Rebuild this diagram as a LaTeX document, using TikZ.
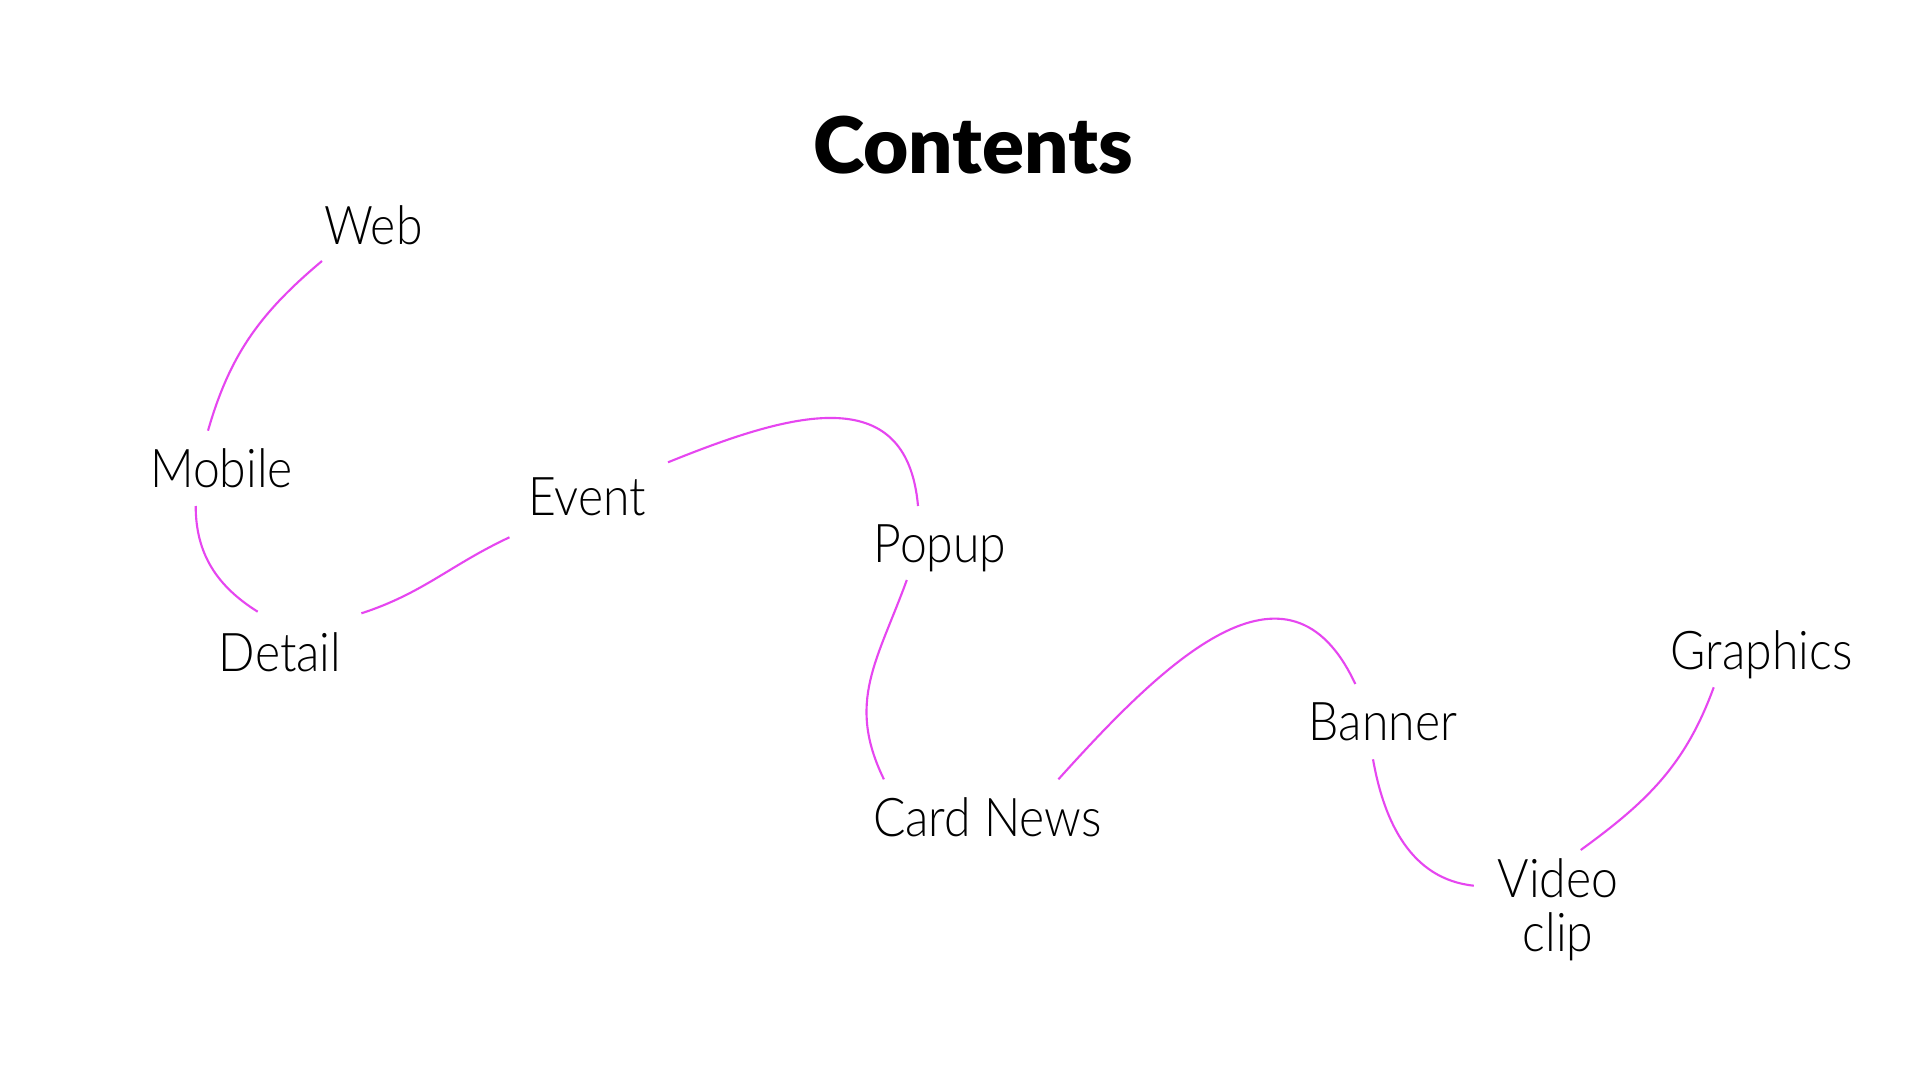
\documentclass[tikz,border=0pt]{standalone}
\usepackage{fontspec}
\setmainfont{Lato Light}[FakeStretch=0.9]
\newfontfamily\titlefont{Lato Black}
\definecolor{linkpink}{RGB}{230,70,240}

\begin{document}
\begin{tikzpicture}[
    item/.style={anchor=base, inner sep=0pt, align=center, font=\fontsize{15.2}{15.4}\selectfont},
    heading/.style={anchor=base, inner sep=0pt, font=\titlefont\fontsize{22.2}{24}\selectfont},
    link/.style={draw=linkpink, line width=0.6pt}
]
    \fill[white] (0,0) rectangle (19.2,-10.8);
    \useasboundingbox (0,0) rectangle (19.2,-10.8);

    % Title
    \node[heading] (title) at (9.73,-1.74) {Contents};

    % Items
    \node[item] (web) at (3.735,-2.45) {Web};
    \node[item] (mobile) at (2.214,-4.873) {Mobile};
    \node[item] (event) at (5.87,-5.15) {Event};
    \node[item] (detail) at (2.80,-6.717) {Detail};
    \node[item] (popup) at (9.40,-5.627) {Popup};
    \node[item] (cardnews) at (9.875,-8.367) {Card News};
    \node[item] (banner) at (13.83,-7.40) {Banner};
    \node[item] (graphics) at (17.616,-6.69) {Graphics};
    \node[item] (video) at (15.58,-9.517) {Video\\clip};

    % Links
    \draw[link] ([shift={(-0.515,-0.16)}]web.base) to[out=220, in=74] ([shift={(-0.134,0.566)}]mobile.base);
    \draw[link] ([shift={(-0.257,-0.187)}]mobile.base) to[out=270, in=148] ([shift={(-0.223,0.60)}]detail.base);
    \draw[link] ([shift={(0.814,0.584)}]detail.base) to[out=18, in=205] ([shift={(-0.775,-0.223)}]event.base);
    \draw[link] ([shift={(0.81,0.527)}]event.base) to[out=22, in=95, looseness=1.3] ([shift={(-0.22,0.567)}]popup.base);
    \draw[link] ([shift={(-0.332,-0.173)}]popup.base) to[out=250, in=116, looseness=1.1] ([shift={(-1.036,0.574)}]cardnews.base);
    \draw[link] ([shift={(0.709,0.574)}]cardnews.base) to[out=48, in=115, looseness=1.3] ([shift={(-0.277,0.56)}]banner.base);
    \draw[link] ([shift={(-0.10,-0.193)}]banner.base) to[out=-80, in=174] ([shift={(-0.842,0.66)}]video.base);
    \draw[link] ([shift={(0.227,1.017)}]video.base) to[out=36, in=250] ([shift={(-0.479,-0.183)}]graphics.base);
\end{tikzpicture}
\end{document}
